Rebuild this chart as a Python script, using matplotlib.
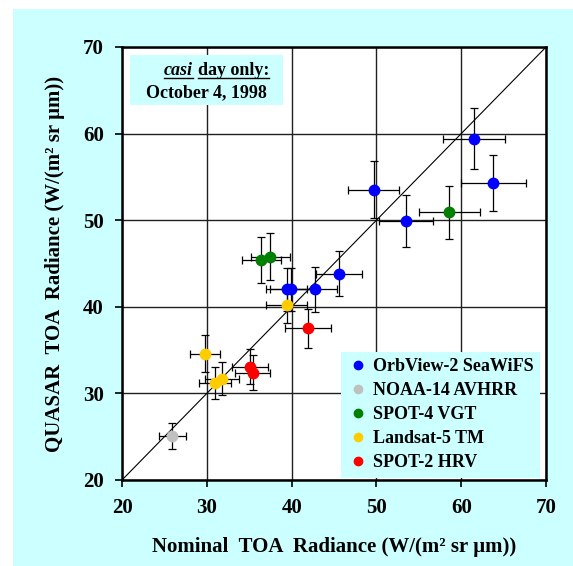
import matplotlib.pyplot as plt
from matplotlib.patches import Rectangle

plt.rcParams['font.family'] = ['Liberation Serif', 'DejaVu Serif']
plt.rcParams['font.weight'] = 'bold'

sensors = ["OrbView-2 SeaWiFS", "NOAA-14 AVHRR", "SPOT-4 VGT", "Landsat-5 TM", "SPOT-2 HRV"]
colors = ["#0000ff", "#c0c0c0", "#008000", "#ffcc00", "#ff0000"]

# nominal radiance, quasar radiance and their error bars, per sensor
seawifs_x = [61.5, 63.8, 49.7, 53.5, 45.6, 42.7, 39.4, 39.9]
seawifs_y = [59.4, 54.3, 53.5, 49.9, 43.8, 42.0, 42.0, 42.0]
seawifs_xerr = [3.7, 3.8, 3.0, 3.2, 2.7, 2.7, 2.4, 2.4]
seawifs_yerr = [3.5, 3.2, 3.3, 3.0, 2.6, 2.6, 2.5, 2.5]

avhrr_x = [25.9]
avhrr_y = [25.1]
avhrr_xerr = [1.6]
avhrr_yerr = [1.5]

vgt_x = [36.4, 37.5, 58.6]
vgt_y = [45.4, 45.8, 50.9]
vgt_xerr = [2.3, 2.3, 3.6]
vgt_yerr = [2.7, 2.7, 3.1]

tm_x = [29.8, 31.0, 31.8, 39.4]
tm_y = [34.6, 31.2, 31.7, 40.2]
tm_xerr = [1.8, 1.9, 2.0, 2.4]
tm_yerr = [2.1, 1.9, 1.9, 2.1]

hrv_x = [41.9, 35.1, 35.4]
hrv_y = [37.5, 33.1, 32.4]
hrv_xerr = [2.7, 2.1, 2.1]
hrv_yerr = [2.3, 2.0, 2.0]

groups = [
    (seawifs_x, seawifs_y, seawifs_xerr, seawifs_yerr),
    (avhrr_x, avhrr_y, avhrr_xerr, avhrr_yerr),
    (vgt_x, vgt_y, vgt_xerr, vgt_yerr),
    (tm_x, tm_y, tm_xerr, tm_yerr),
    (hrv_x, hrv_y, hrv_xerr, hrv_yerr),
]

ticks = [20, 30, 40, 50, 60, 70]
bg = "#ccffff"

fig = plt.figure(figsize=(5.73, 5.66), dpi=100)
fig.patches.append(Rectangle((13 / 573, 0), 1, 1 - 9 / 566, transform=fig.transFigure,
                             facecolor=bg, edgecolor="none", zorder=-10))
ax = fig.add_axes([0.213, 0.152, 0.740, 0.765])
ax.set_facecolor("white")

ax.set_xlim(20, 70)
ax.set_ylim(20, 70)
ax.set_xticks(ticks)
ax.set_yticks(ticks)
ax.grid(True, color="#202020", lw=1.0)
ax.set_axisbelow(True)
ax.tick_params(labelsize=15, length=5, width=1.2, direction="out", pad=8)
for lab in ax.get_xticklabels() + ax.get_yticklabels():
    lab.set_fontweight("bold")
for s in ax.spines.values():
    s.set_linewidth(1.8)

ax.plot([20, 70], [20, 70], color="black", lw=0.8, zorder=2)

for (x, y, xe, ye), c, name in zip(groups, colors, sensors):
    ax.errorbar(x, y, xerr=xe, yerr=ye, fmt="none", ecolor="black", elinewidth=0.9,
                capsize=3, capthick=0.9, zorder=3)
    ax.plot(x, y, "o", color=c, markersize=7.5, label=name, zorder=4, linestyle="none")

leg = ax.legend(loc="lower right", bbox_to_anchor=(0.986, 0.005), borderaxespad=0,
                prop={"size": 13, "weight": "bold"}, facecolor=bg, edgecolor="none",
                framealpha=1, fancybox=False, handletextpad=0.2, markerscale=0.8,
                handlelength=1.2, labelspacing=0.38, borderpad=0.38)
leg.set_zorder(5)

ax.set_xlabel("Nominal  TOA  Radiance (W/(m² sr µm))", fontsize=15, fontweight="bold", labelpad=14)
ax.set_ylabel("QUASAR  TOA  Radiance (W/(m² sr µm))", fontsize=15, fontweight="bold", labelpad=13)

# annotation box, upper left
ax.add_patch(Rectangle((0.019, 0.866), 0.361, 0.115, transform=ax.transAxes,
                       facecolor=bg, edgecolor="none", zorder=5))
t1 = ax.text(0.167, 0.935, "casi", transform=ax.transAxes, fontsize=13, fontweight="bold",
             fontstyle="italic", ha="right", va="baseline", zorder=6)
t2 = ax.text(0.179, 0.935, "day only:", transform=ax.transAxes, fontsize=13, fontweight="bold",
             ha="left", va="baseline", zorder=6)
ax.text(0.199, 0.895, "October 4, 1998", transform=ax.transAxes, fontsize=13, fontweight="bold",
        ha="center", va="center", zorder=6)

fig.canvas.draw()
inv = ax.transAxes.inverted()
for t in (t1, t2):
    bb = t.get_window_extent()
    (x0, _), (x1, _) = inv.transform([(bb.x0, bb.y0), (bb.x1, bb.y0)])
    ax.plot([x0, x1], [0.928, 0.928], transform=ax.transAxes, color="black", lw=1.0, zorder=6)

fig.savefig("out.png", dpi=100)
